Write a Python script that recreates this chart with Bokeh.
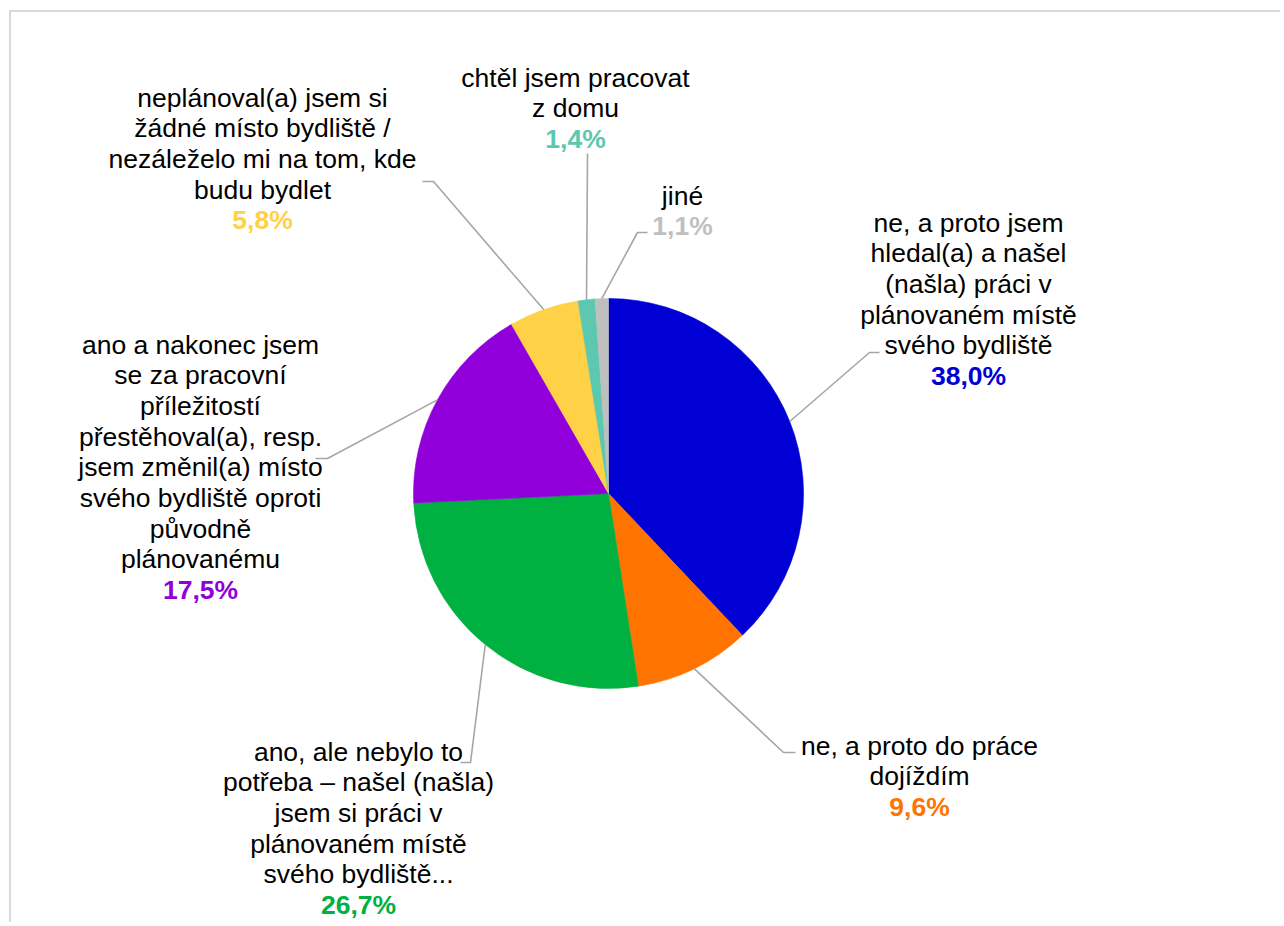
import numpy as np
from bokeh.plotting import figure
from bokeh.models import Range1d, ColumnDataSource
from bokeh.core.properties import value
from bokeh.embed import file_html
from bokeh.resources import INLINE

# ---------------- data ----------------
categories = [
    "ne, a proto jsem\nhledal(a) a našel\n(našla) práci v\nplánovaném místě\nsvého bydliště",
    "ne, a proto do práce\ndojíždím",
    "ano, ale nebylo to\npotřeba – našel (našla)\njsem si práci v\nplánovaném místě\nsvého bydliště...",
    "ano a nakonec jsem\nse za pracovní\npříležitostí\npřestěhoval(a), resp.\njsem změnil(a) místo\nsvého bydliště oproti\npůvodně\nplánovanému",
    "neplánoval(a) jsem si\nžádné místo bydliště /\nnezáleželo mi na tom, kde\nbudu bydlet",
    "chtěl jsem pracovat\nz domu",
    "jiné",
]
shares = [38.0, 9.6, 26.7, 17.5, 5.8, 1.4, 1.1]
colors = ["#0000D4", "#FF7400", "#00B040", "#9100DB", "#FFD146", "#5BC8AF", "#BFBFBF"]

# ---------------- layout (page pixels) ----------------
W, H = 1280, 922
CX, CY, R = 608, 493, 195
LH = 30.7
FS = "26.5px"
FONT = "Liberation Sans"
# label block: centre x, first-line centre y
label_pos = [(968, 222), (919, 745), (358, 751), (200, 344), (262, 97), (575, 77), (682, 195)]
# leader elbow (x, y) and end x
leader_elbow = [(869, 352, 879), (783, 752, 795), (470, 762, 460), (327, 458, 315),
                (433, 181, 422), (587, 153, 587), (637, 232, 647)]

vals = np.array(shares, dtype=float)
total = vals.sum()
cum = np.cumsum(vals)
start = np.pi / 2 - 2 * np.pi * (cum - vals) / total
end = np.pi / 2 - 2 * np.pi * cum / total
mid = np.pi / 2 - 2 * np.pi * (cum - vals / 2) / total
pct_labels = [f"{v:.1f}%".replace(".", ",") for v in shares]

p = figure(width=W, height=H, output_backend="svg", toolbar_location=None,
           x_range=Range1d(0, W), y_range=Range1d(-H, 0),
           min_border=0, x_axis_location=None, y_axis_location=None)
p.grid.visible = False
p.outline_line_color = None
p.background_fill_color = "white"
p.border_fill_color = "white"

# chart border (light grey, extends beyond window at right/bottom)
p.quad(left=[9.5], right=[1500], top=[-10.5], bottom=[-1200],
       fill_color=None, line_color="#D9D9D9", line_width=2)

src = ColumnDataSource(dict(start=start, end=end, color=colors))
p.wedge(x=CX, y=-CY, radius=R, start_angle="start", end_angle="end",
        direction="clock", fill_color="color", line_color="color", line_width=0.6,
        source=src)

# leader lines
xs, ys = [], []
for i in range(len(shares)):
    px = CX + R * np.cos(mid[i])
    py = -CY + R * np.sin(mid[i])
    ex, ey, endx = leader_elbow[i]
    xs.append([px, ex, endx])
    ys.append([py, -ey, -ey])
p.multi_line(xs=xs, ys=ys, line_color="#A6A6A6", line_width=1.6)

# labels
tx, ty, tt = [], [], []
px_, py_, pt_, pc_ = [], [], [], []
for i, lab in enumerate(categories):
    lx, ly = label_pos[i]
    lines = lab.split("\n")
    for j, ln in enumerate(lines):
        tx.append(lx)
        ty.append(-(ly + j * LH))
        tt.append(ln)
    px_.append(lx)
    py_.append(-(ly + len(lines) * LH))
    pt_.append(pct_labels[i])
    pc_.append(colors[i])

p.text(x=tx, y=ty, text=tt, text_align="center", text_baseline="middle",
       text_font=value(FONT), text_font_size=FS, text_color="#000000")
p.text(x=px_, y=py_, text=pt_, text_align="center", text_baseline="middle",
       text_font=value(FONT), text_font_size=FS, text_font_style="bold",
       text_color=pc_)

open("out.html", "w").write(file_html(p, INLINE))
